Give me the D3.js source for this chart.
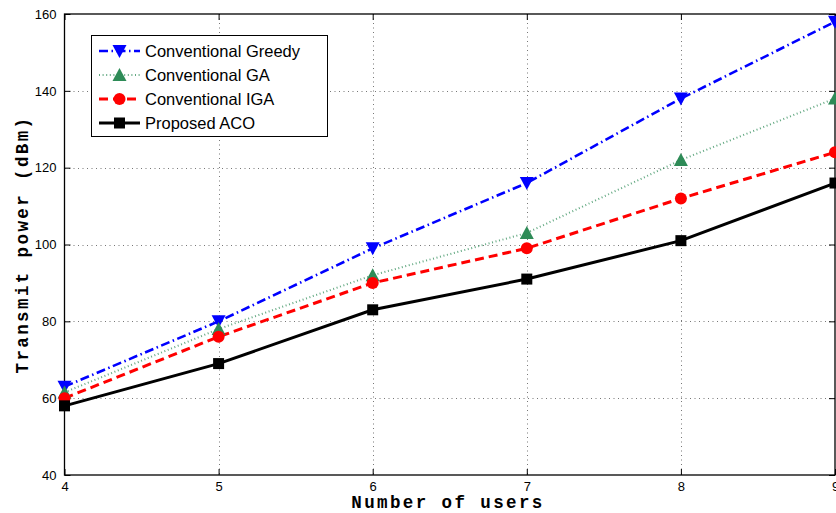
<!DOCTYPE html>
<html>
<head>
<meta charset="utf-8">
<script src="https://cdn.jsdelivr.net/npm/d3@7"></script>
<style>
  html, body { margin: 0; padding: 0; background: #fff; }
  svg { display: block; }
  .axlabel { font-family: "Liberation Mono", "Courier New", monospace; font-weight: bold; font-size: 17.5px; letter-spacing: 2.4px; }
  .leg text { font-family: "Liberation Sans", Arial, sans-serif; font-size: 16.5px; }
</style>
</head>
<body>
<svg id="chart" width="836" height="513"></svg>
<script>
// ==== Data ====
const users = [4, 5, 6, 7, 8, 9];
const greedy = [63, 80, 99, 116, 138, 158];
const ga     = [61.5, 78, 92, 103, 122, 138];
const iga    = [60, 76, 90, 99, 112, 124];
const aco    = [58, 69, 83, 91, 101, 116];
const yTicks = [40, 60, 80, 100, 120, 140, 160];
const seriesNames = ["Conventional Greedy", "Conventional GA", "Conventional IGA", "Proposed ACO"];

// ==== Layout ====
const W = 836, H = 513;
const L = 64.5, R = 835, T = 14, B = 475;

const svg = d3.select("#chart");
const x = d3.scaleLinear().domain([4, 9]).range([L, R]);
const y = d3.scaleLinear().domain([40, 160]).range([B, T]);

// styles for each series
const styles = [
  { values: greedy, color: "#0000ff", width: 2.6, dash: "9,3.5,1.5,3.5", marker: "down" },
  { values: ga,     color: "#2e8b57", width: 2,   dash: "1,2.6",          marker: "up", opacity: 0.75 },
  { values: iga,    color: "#ff0000", width: 3,   dash: "9,5",            marker: "circle" },
  { values: aco,    color: "#000000", width: 3,   dash: null,             marker: "square" }
];

// ==== Grid ====
const grid = svg.append("g").attr("stroke", "#777").attr("stroke-width", 1).attr("stroke-dasharray", "1,3.5");
grid.selectAll(".gx").data(users.slice(1, -1)).enter().append("line")
  .attr("x1", d => Math.round(x(d)) + 0.5).attr("x2", d => Math.round(x(d)) + 0.5)
  .attr("y1", T).attr("y2", B);
grid.selectAll(".gy").data(yTicks.slice(1, -1)).enter().append("line")
  .attr("y1", d => Math.round(y(d)) + 0.5).attr("y2", d => Math.round(y(d)) + 0.5)
  .attr("x1", L).attr("x2", R);

// ==== Axes (ticks inward on all sides) ====
const fmt = d3.format("d");
function tickFont(g) {
  g.attr("font-family", "'Liberation Sans', Arial, sans-serif").attr("font-size", 13);
  g.selectAll("text").attr("fill", "#000");
}
svg.append("g").attr("transform", `translate(0,${B})`)
  .call(d3.axisBottom(x).tickValues(users).tickFormat(fmt).tickSizeInner(-6).tickSizeOuter(0).tickPadding(7))
  .call(g => g.select(".domain").remove())
  .call(tickFont);
svg.append("g").attr("transform", `translate(0,${T})`)
  .call(d3.axisTop(x).tickValues(users).tickSizeInner(-6).tickSizeOuter(0).tickFormat(""))
  .call(g => g.select(".domain").remove());
svg.append("g").attr("transform", `translate(${L},0)`)
  .call(d3.axisLeft(y).tickValues(yTicks).tickFormat(fmt).tickSizeInner(-6).tickSizeOuter(0).tickPadding(8))
  .call(g => g.select(".domain").remove())
  .call(tickFont);
svg.append("g").attr("transform", `translate(${R},0)`)
  .call(d3.axisRight(y).tickValues(yTicks).tickSizeInner(-6).tickSizeOuter(0).tickFormat(""))
  .call(g => g.select(".domain").remove());

svg.append("rect").attr("x", L).attr("y", T).attr("width", R - L).attr("height", B - T)
  .attr("fill", "none").attr("stroke", "#000").attr("stroke-width", 1.3);

// ==== Markers ====
function drawMarker(g, kind, color, cx, cy) {
  if (kind === "down") {
    g.append("path").attr("d", `M${cx - 7},${cy - 6}L${cx + 7},${cy - 6}L${cx},${cy + 7}Z`).attr("fill", color);
  } else if (kind === "up") {
    g.append("path").attr("d", `M${cx - 7},${cy + 6}L${cx + 7},${cy + 6}L${cx},${cy - 7}Z`).attr("fill", color);
  } else if (kind === "circle") {
    g.append("circle").attr("cx", cx).attr("cy", cy).attr("r", 6).attr("fill", color);
  } else {
    g.append("rect").attr("x", cx - 5.5).attr("y", cy - 5.5).attr("width", 11).attr("height", 11).attr("fill", color);
  }
}

// ==== Series ====
const line = d3.line().x((d, i) => x(users[i])).y(d => y(d));
styles.forEach(s => {
  svg.append("path").datum(s.values)
    .attr("d", line)
    .attr("fill", "none")
    .attr("stroke", s.color)
    .attr("stroke-width", s.width)
    .attr("stroke-opacity", s.opacity || 1)
    .attr("stroke-dasharray", s.dash);
});
styles.forEach(s => {
  const g = svg.append("g");
  s.values.forEach((v, i) => drawMarker(g, s.marker, s.color, x(users[i]), y(v)));
});

// ==== Legend ====
const leg = svg.append("g").attr("class", "leg");
leg.append("rect").attr("x", 91.5).attr("y", 35.5).attr("width", 236).attr("height", 101)
  .attr("fill", "#fff").attr("stroke", "#000").attr("stroke-width", 1);
styles.forEach((s, i) => {
  const cy = 51 + i * 24;
  leg.append("line").attr("x1", 99).attr("x2", 140).attr("y1", cy).attr("y2", cy)
    .attr("stroke", s.color).attr("stroke-width", s.width)
    .attr("stroke-opacity", s.opacity || 1)
    .attr("stroke-dasharray", s.dash);
  drawMarker(leg, s.marker, s.color, 119.5, cy);
  leg.append("text").attr("x", 145).attr("y", cy).attr("dy", "0.35em").text(seriesNames[i]);
});

// ==== Axis labels ====
svg.append("text").attr("class", "axlabel").attr("x", 448).attr("y", 508)
  .attr("text-anchor", "middle").text("Number of users");
svg.append("text").attr("class", "axlabel")
  .attr("transform", `translate(28,${(T + B) / 2}) rotate(-90)`)
  .attr("text-anchor", "middle").text("Transmit power (dBm)");
</script>
</body>
</html>
